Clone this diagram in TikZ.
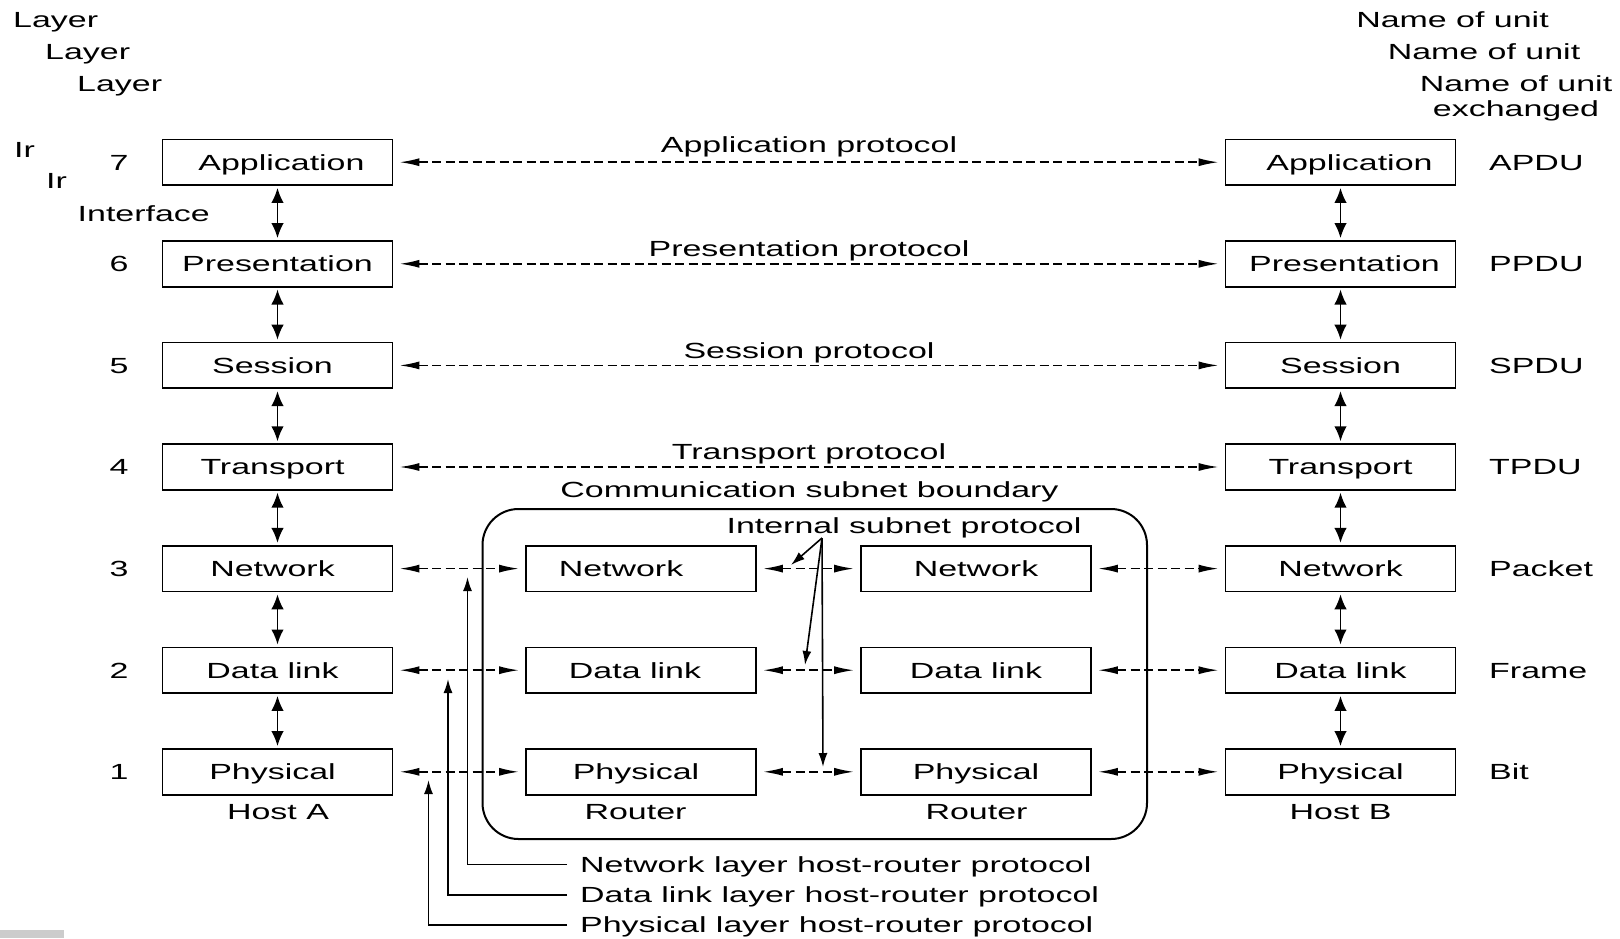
\documentclass[tikz,border=0pt]{standalone}
\usepackage{fontspec}
\setmainfont{Liberation Sans}[FakeStretch=1.55]
\usetikzlibrary{arrows.meta}

\begin{document}
\begin{tikzpicture}[x=1pt,y=-1pt,
  every node/.style={font=\fontsize{21.9pt}{22.7pt}\selectfont},
  lbl/.style={inner sep=0pt, text height=15.7pt, text depth=0pt},
  layerbox/.style={draw, line width=1.7pt, inner sep=0pt, minimum width=230pt,
    minimum height=45.7pt, text height=15.7pt, text depth=0pt},
  peer/.style={line width=1.7pt, dash pattern=on 9pt off 4.5pt,
    {Latex[length=20pt,width=8pt]}-{Latex[length=20pt,width=8pt]},
    shorten <=6pt, shorten >=6pt},
  iface/.style={line width=1.8pt,
    {Latex[length=15pt,width=12.5pt]}-{Latex[length=15pt,width=12.5pt]},
    shorten <=2pt, shorten >=2pt},
  pointer/.style={line width=1.6pt, -{Latex[length=14pt,width=9pt]}},
  plab/.style={lbl, yshift=15pt}
]
\useasboundingbox (0,0) rectangle (1620,938);

% column headings
\node[lbl, anchor=west] (lay1) at (13,19.9) {Layer};
\node[lbl, anchor=west] (lay2) at (45,51.7) {Layer};
\node[lbl, anchor=west] (lay3) at (77,83.7) {Layer};
\node[lbl] (unit1) at (1452.5,19.7) {Name of unit};
\node[lbl] (unit2) at (1484,51.7) {Name of unit};
\node[lbl] (unit3) at (1516,83.7) {Name of unit};
\node[lbl] (unit3b) at (1516,108.5) {exchanged};
\node[lbl, anchor=west] (ir1) at (14,149.9) {Ir};
\node[lbl, anchor=west] (ir2) at (46,180.7) {Ir};
\node[lbl, anchor=west] (ifc) at (77.5,213.7) {Interface};

% subnet boundary
\node[draw, line width=2pt, rounded corners=36pt, minimum width=664.5pt,
  minimum height=330pt, inner sep=0pt] (subnet) at (814.75,674) {};
\node[lbl] (subnetlab) at (809.5,490) {Communication subnet boundary};
\node[lbl] (isplab) at (904,526) {Internal subnet protocol};

% host A stack
\node[layerbox] (hA7) at (277.5,162.2) {\hspace*{8pt}Application};
\node[layerbox] (hA6) at (277.5,263.8) {Presentation};
\node[layerbox] (hA5) at (277.5,365.4) {Session\hspace*{10pt}};
\node[layerbox] (hA4) at (277.5,467.0) {Transport\hspace*{10pt}};
\node[layerbox] (hA3) at (277.5,568.6) {Network\hspace*{10pt}};
\node[layerbox] (hA2) at (277.5,670.2) {Data link\hspace*{10pt}};
\node[layerbox] (hA1) at (277.5,771.8) {Physical\hspace*{10pt}};

% host B stack
\node[layerbox] (hB7) at (1340.5,162.2) {\hspace*{18pt}Application};
\node[layerbox] (hB6) at (1340.5,263.8) {\hspace*{8pt}Presentation};
\node[layerbox] (hB5) at (1340.5,365.4) {Session};
\node[layerbox] (hB4) at (1340.5,467.0) {Transport};
\node[layerbox] (hB3) at (1340.5,568.6) {Network};
\node[layerbox] (hB2) at (1340.5,670.2) {Data link};
\node[layerbox] (hB1) at (1340.5,771.8) {Physical};

% routers
\node[layerbox] (rL3) at (641,568.6) {Network\hspace*{40pt}};
\node[layerbox] (rL2) at (641,670.2) {Data link\hspace*{12pt}};
\node[layerbox] (rL1) at (641,771.8) {Physical\hspace*{10pt}};
\node[layerbox] (rR3) at (976,568.6) {Network};
\node[layerbox] (rR2) at (976,670.2) {Data link};
\node[layerbox] (rR1) at (976,771.8) {Physical};

% layer numbers
\node[lbl] (n7) at (119,162.2) {7};
\node[lbl] (n6) at (119,263.8) {6};
\node[lbl] (n5) at (119,365.4) {5};
\node[lbl] (n4) at (119,467.0) {4};
\node[lbl] (n3) at (119,568.6) {3};
\node[lbl] (n2) at (119,670.2) {2};
\node[lbl] (n1) at (119,771.8) {1};

% unit names
\node[lbl, anchor=west] (u7) at (1489,162.2) {APDU};
\node[lbl, anchor=west] (u6) at (1489,263.8) {PPDU};
\node[lbl, anchor=west] (u5) at (1489,365.4) {SPDU};
\node[lbl, anchor=west] (u4) at (1489,467.0) {TPDU};
\node[lbl, anchor=west] (u3) at (1489,568.6) {Packet};
\node[lbl, anchor=west] (u2) at (1489,670.2) {Frame};
\node[lbl, anchor=west] (u1) at (1489,771.8) {Bit};

% machine names
\node[lbl] (hostA) at (278,812) {Host A};
\node[lbl] (routerL) at (635.5,811.5) {Router};
\node[lbl] (routerR) at (976.5,811.5) {Router};
\node[lbl] (hostB) at (1340.6,812) {Host B};

% interfaces inside each host
\foreach \s in {hA,hB}{
  \draw[iface] (\s7) -- (\s6);
  \draw[iface] (\s6) -- (\s5);
  \draw[iface] (\s5) -- (\s4);
  \draw[iface] (\s4) -- (\s3);
  \draw[iface] (\s3) -- (\s2);
  \draw[iface] (\s2) -- (\s1);
}

% end-to-end peer protocols
\draw[peer] (hA7) -- node[plab, yshift=3pt] {Application protocol} (hB7);
\draw[peer] (hA6) -- node[plab] {Presentation protocol} (hB6);
\draw[peer] (hA5) -- node[plab] {Session protocol} (hB5);
\draw[peer] (hA4) -- node[plab] {Transport protocol} (hB4);

% hop-by-hop protocols
\foreach \k in {3,2,1}{
  \draw[peer] (hA\k) -- (rL\k);
  \draw[peer] (rL\k) -- (rR\k);
  \draw[peer] (rR\k) -- (hB\k);
}

% internal subnet protocol pointers
\coordinate (isp) at (822,538);
\coordinate (isp3) at (791,565);
\coordinate (isp2) at (805,665);
\coordinate (isp1) at (823,767);
\draw[pointer] (isp) -- (isp3);
\draw[pointer] (isp) -- (isp2);
\draw[pointer] (isp) -- (isp1);

% host-router protocol callouts
\node[lbl, anchor=west, inner xsep=13pt] (bl3) at (567,864.5) {Network layer host-router protocol};
\node[lbl, anchor=west, inner xsep=13pt] (bl2) at (567,894.7) {Data link layer host-router protocol};
\node[lbl, anchor=west, inner xsep=13pt] (bl1) at (567,924.7) {Physical layer host-router protocol};
\coordinate (up3) at (467.5,577);
\coordinate (up2) at (448,679);
\coordinate (up1) at (428.5,780);
\draw[pointer] (bl3.west) -| (up3);
\draw[pointer] (bl2.west) -| (up2);
\draw[pointer] (bl1.west) -| (up1);

% grey strip in the lower left corner
\fill[black!20] (0,930) rectangle (64,938);
\end{tikzpicture}
\end{document}
